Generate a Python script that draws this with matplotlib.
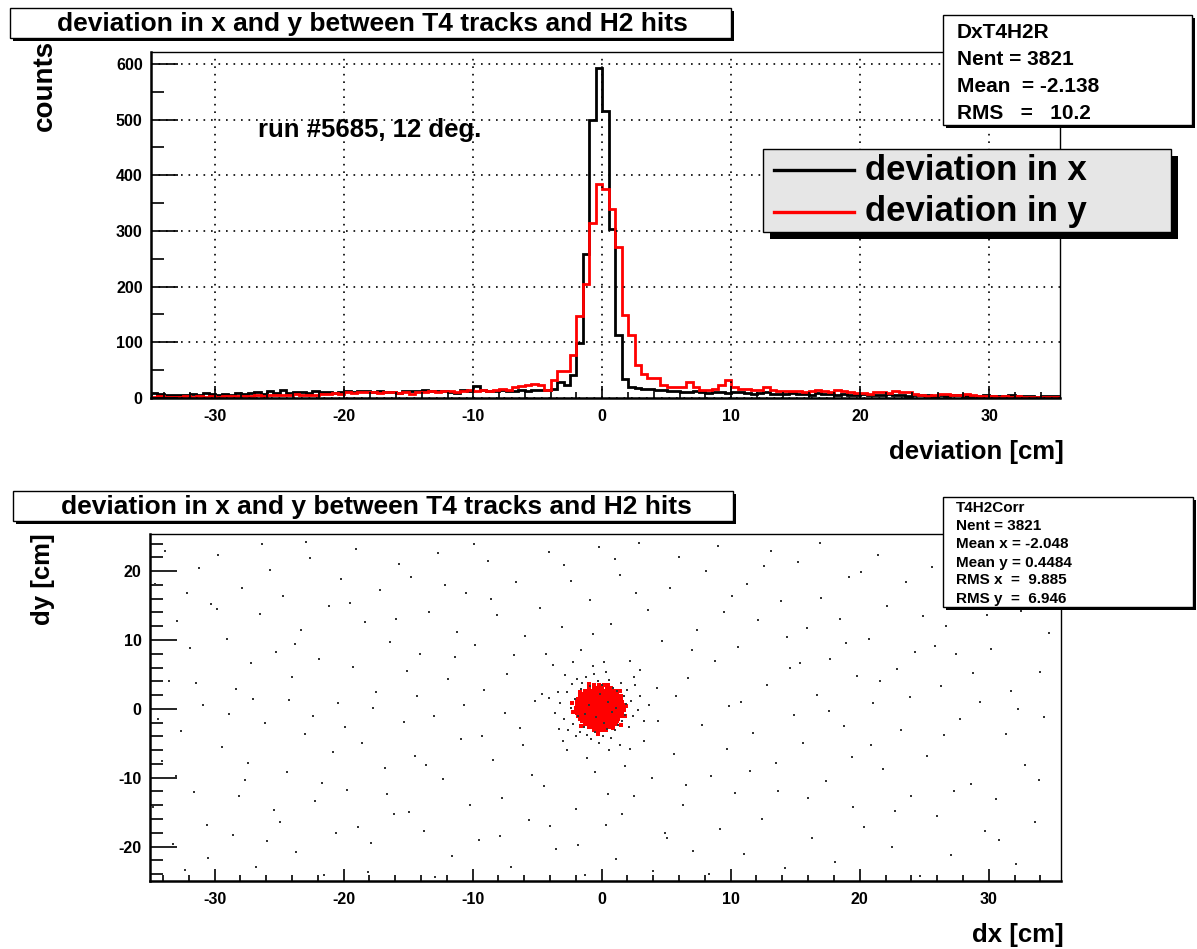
import numpy as np
import matplotlib
matplotlib.use("Agg")
import matplotlib.pyplot as plt
from matplotlib.patches import Rectangle
from matplotlib.lines import Line2D
from matplotlib.ticker import MultipleLocator

plt.rcParams['font.family'] = ['Liberation Sans', 'DejaVu Sans']
plt.rcParams['font.weight'] = 'bold'
plt.rcParams['axes.unicode_minus'] = False

W, H = 1197, 949

# histogram: 0.5 cm bins from -35 to 35.5
bin_lo, bin_hi = -35.0, 35.5
counts_x = [
    9, 7, 6, 6, 5, 6, 7, 6, 9, 7,
    6, 8, 5, 9, 8, 9, 10, 8, 12, 9,
    14, 9, 11, 10, 9, 12, 11, 10, 9, 10,
    12, 10, 13, 12, 11, 13, 11, 10, 9, 12,
    13, 12, 14, 13, 12, 13, 11, 9, 14, 13,
    22, 14, 12, 13, 15, 13, 12, 14, 13, 15,
    14, 14, 16, 29, 24, 41, 99, 258, 499, 592,
    515, 303, 113, 35, 20, 18, 16, 17, 14, 15,
    12, 13, 11, 10, 12, 10, 9, 11, 10, 9,
    11, 10, 9, 8, 9, 10, 8, 7, 8, 9,
    7, 8, 6, 9, 8, 7, 6, 7, 6, 5,
    7, 6, 5, 6, 7, 6, 5, 4, 5, 6,
    5, 4, 5, 4, 6, 5, 4, 3, 4, 5,
    4, 3, 4, 5, 3, 4, 3, 2, 3, 3,
    3,
]
counts_y = [
    2, 3, 2, 1, 2, 3, 2, 3, 2, 3,
    2, 3, 4, 3, 4, 4, 5, 4, 5, 6,
    5, 6, 7, 6, 5, 6, 8, 7, 9, 8,
    10, 9, 10, 11, 10, 9, 10, 11, 9, 10,
    7, 10, 11, 12, 11, 13, 12, 11, 13, 14,
    12, 14, 13, 15, 16, 14, 19, 22, 24, 25,
    24, 14, 32, 49, 49, 77, 147, 204, 314, 384,
    375, 339, 272, 149, 113, 60, 44, 36, 36, 23,
    20, 20, 20, 29, 20, 14, 14, 17, 23, 32,
    20, 17, 17, 15, 14, 20, 14, 13, 12, 13,
    12, 11, 12, 14, 12, 11, 15, 13, 10, 9,
    9, 8, 10, 11, 9, 12, 10, 11, 8, 6,
    4, 5, 8, 7, 6, 6, 7, 5, 4, 3,
    3, 2, 3, 2, 3, 2, 1, 2, 2, 1,
    1,
]

# scatter: sparse background hits (dx, dy)
bg_points = [
    (-34.6, 18.2), (-34.1, -7.5), (-33.8, 23.0), (-33.5, 4.1), (-33.2, -19.6), (-32.9, 12.7),
    (-32.6, -3.2), (-32.3, -23.4), (-31.9, 8.9), (-31.6, -12.1), (-31.2, 20.5), (-30.9, 0.6),
    (-30.6, -16.8), (-30.3, 15.3), (-34.4, -1.4), (-33.0, -9.8), (-31.4, 3.8), (-30.5, -21.7),
    (-32.1, 16.9), (-34.8, -14.2),
    (-29.7, 22.4), (-29.4, -5.6), (-29.0, 10.2), (-28.6, -18.3), (-28.3, 2.9), (-27.9, 17.6),
    (-27.6, -10.4), (-27.2, 6.7), (-26.8, -22.9), (-26.5, 13.8), (-26.1, -2.1), (-25.7, 20.1),
    (-25.4, -14.7), (-25.2, 8.3), (-28.9, -0.8), (-27.4, -7.9), (-26.3, 24.0), (-29.8, 14.5),
    (-25.9, -19.2), (-28.1, -12.6), (-27.0, 1.5),
    (-24.7, 16.4), (-24.4, -9.1), (-24.0, 4.6), (-23.7, -20.8), (-23.3, 11.5), (-23.0, -3.7),
    (-22.6, 21.9), (-22.2, -13.4), (-21.9, 7.2), (-21.5, -24.1), (-21.1, 14.9), (-20.8, -6.3),
    (-20.4, 0.9), (-20.2, 18.8), (-24.9, -16.5), (-22.9, 24.3), (-21.7, -10.7), (-23.8, 9.4),
    (-20.6, -18.0), (-24.2, 1.3), (-22.4, -1.0),
    (-19.7, -11.8), (-19.3, 6.1), (-19.0, 23.2), (-18.6, -4.9), (-18.3, 12.6), (-17.9, -19.5),
    (-17.5, 2.4), (-17.2, 17.3), (-16.8, -8.6), (-16.4, 9.7), (-16.1, -15.2), (-15.7, 21.0),
    (-15.3, -1.9), (-15.1, 5.5), (-19.5, 15.4), (-18.1, -23.7), (-16.6, -12.3), (-17.7, 0.2),
    (-15.9, 13.1), (-19.9, -2.6), (-18.9, -17.1),
    (-14.8, 19.1), (-14.5, -6.8), (-14.1, 8.0), (-13.8, -17.7), (-13.4, 14.0), (-13.0, -1.1),
    (-12.7, 22.6), (-12.3, -10.2), (-11.9, 4.3), (-11.6, -21.4), (-11.2, 11.1), (-10.9, -4.4),
    (-10.5, 16.8), (-10.2, -13.9), (-14.3, 1.8), (-12.9, -24.4), (-11.4, 7.6), (-13.6, -8.2),
    (-10.7, 0.5), (-12.1, 18.0), (-14.9, -15.0),
    (-9.8, 9.3), (-9.5, -19.0), (-9.1, 2.7), (-8.8, 21.5), (-8.4, -7.4), (-8.1, 13.6),
    (-7.7, -12.9), (-7.3, 5.0), (-7.0, -23.0), (-6.6, 18.4), (-6.3, -2.8), (-5.9, 10.6),
    (-5.6, -16.1), (-5.2, 1.2), (-9.3, -3.9), (-8.6, 16.0), (-7.5, -0.6), (-6.8, 7.8),
    (-5.4, -9.6), (-9.9, 24.0), (-6.1, -5.3), (-7.9, -18.4),
    (-4.8, 14.7), (-4.5, -11.2), (-4.1, 22.8), (-3.8, 6.4), (-3.5, -20.3), (-3.1, 11.9),
    (-2.7, -6.0), (-2.4, 18.6), (-2.0, -14.6), (-1.6, 8.5), (-1.3, -24.2), (-0.9, 15.8),
    (-0.5, -9.1), (-0.2, 23.5), (-4.6, 2.2), (-3.3, -2.9), (-4.0, -17.0), (-1.8, -19.7),
    (-2.9, 20.9), (-0.7, 10.9), (-4.3, 7.9), (-1.1, -7.2),
    (0.3, -16.9), (0.7, 12.3), (1.1, -21.8), (1.4, 19.4), (1.8, -8.3), (2.2, 7.0),
    (2.5, -12.7), (2.9, 24.1), (3.3, -4.6), (3.6, 14.4), (4.0, -23.5), (4.3, 3.0),
    (4.7, 9.8), (4.9, -18.1), (1.0, 21.7), (2.7, 16.8), (3.9, -10.0), (0.5, -12.4),
    (4.4, -1.7), (3.0, 5.6), (1.6, -15.2), (0.2, 6.8),
    (5.3, 17.5), (5.6, -6.6), (6.0, 22.0), (6.3, -14.0), (6.7, 4.5), (7.1, -20.6),
    (7.4, 11.4), (7.8, -2.3), (8.1, 20.0), (8.5, -9.8), (8.8, 6.9), (9.2, -17.4),
    (9.5, 14.1), (9.9, 0.4), (5.8, 1.9), (7.0, 8.6), (8.3, -24.0), (9.7, -5.8),
    (6.5, -11.1), (5.1, -18.7), (9.0, 23.6),
    (10.3, -12.2), (10.6, 9.0), (11.0, -21.1), (11.3, 18.1), (11.7, -3.5), (12.1, 12.9),
    (12.4, -16.0), (12.8, 3.5), (13.1, 23.0), (13.5, -7.8), (13.9, 15.6), (14.2, -23.1),
    (14.6, 6.0), (14.9, -0.9), (10.8, 1.0), (12.6, 20.7), (13.7, -11.9), (11.5, -9.0),
    (14.4, 10.5), (10.1, 16.4),
    (15.2, 21.3), (15.6, -5.0), (15.9, 11.8), (16.3, -18.8), (16.7, 2.0), (17.0, 16.1),
    (17.4, -10.5), (17.7, 7.3), (18.1, -22.3), (18.5, 13.0), (18.8, -2.5), (19.2, 19.2),
    (19.5, -14.3), (19.8, 4.8), (16.0, -12.9), (17.6, -0.3), (18.9, 9.5), (15.4, 6.6),
    (19.4, -7.0), (16.9, 24.1),
    (20.3, -17.2), (20.7, 10.1), (21.0, 0.8), (21.4, 22.4), (21.8, -8.7), (22.1, 15.0),
    (22.5, -20.0), (22.9, 5.8), (23.2, -3.1), (23.6, 18.5), (24.0, -12.6), (24.3, 8.2),
    (24.7, -24.3), (24.9, 13.5), (20.9, -5.2), (22.7, -14.8), (23.9, 1.7), (21.6, 4.0),
    (20.1, 19.9),
    (25.2, -6.9), (25.6, 20.6), (26.0, -15.5), (26.3, 3.3), (26.7, 12.0), (27.1, -21.2),
    (27.5, 7.9), (27.8, -1.5), (28.2, 17.2), (28.6, -10.9), (29.0, 23.8), (29.3, 1.0),
    (29.7, -17.8), (25.8, 9.2), (27.3, -12.0), (28.8, 5.2), (26.5, -3.8), (29.9, 13.6),
    (30.2, 8.7), (30.6, -13.1), (31.0, 19.3), (31.3, -3.6), (31.7, 2.6), (32.1, -22.6),
    (32.5, 14.2), (32.8, -8.1), (33.2, 22.1), (33.6, -16.4), (34.0, 5.4), (34.3, -1.2),
    (34.7, 11.0), (30.8, -19.0), (32.3, 0.0), (33.9, -10.3), (31.5, 16.5),
]

# black hits around the central peak
core_black = [
    (-3.2, 0.8), (-2.9, -1.5), (-2.7, 2.4), (-2.6, -3.1), (-2.4, 0.1), (-2.3, 3.6),
    (-2.2, -2.2), (-2.1, 1.5), (-2.0, -4.0), (-1.9, 4.3), (-1.7, -3.4), (-1.6, 2.9),
    (-1.5, 3.8), (-1.4, -2.7), (-1.2, 4.6), (-1.1, -3.8), (-0.9, 3.3), (-0.8, -4.4),
    (-0.6, 5.1), (-0.5, -3.3), (-0.3, 4.0), (-0.2, -5.0), (0.0, 3.5), (0.1, -3.9),
    (0.3, 5.4), (0.4, -2.9), (0.6, 4.2), (0.7, -4.2), (0.9, 3.1), (1.0, -3.0),
    (1.2, 2.6), (1.3, -2.4), (1.5, 3.7), (1.6, -1.8), (1.7, 1.9), (1.8, -0.9),
    (1.9, 0.7), (2.0, 2.8), (2.1, -2.6), (2.3, 1.2), (2.4, -1.1), (2.6, 3.4),
    (2.8, -0.2), (3.0, 1.9), (-3.6, -0.6), (-3.4, 2.5), (3.3, -1.7), (-1.0, 0.5),
    (-0.4, -1.2), (0.5, 1.0), (-1.3, -0.8), (0.8, -0.5), (-0.1, 2.1), (0.2, -2.0),
    (-1.8, -1.0), (1.1, 0.2), (-2.8, 4.9), (2.5, 4.7), (-3.0, -4.6), (1.4, -5.3),
    (-0.7, 6.2), (0.6, -6.0), (-4.1, 1.6), (3.7, 0.5), (-2.2, 6.8), (2.2, -5.9),
]

# red hits in the central peak, row by row (dy, list of dx)
red_rows = [
    (3.4, [-0.6, -0.2, 0.2]),
    (3.0, [-1.0, -0.6, -0.3, 0.0, 0.4, 0.7]),
    (2.6, [-1.3, -1.0, -0.7, -0.4, -0.1, 0.2, 0.5, 0.8, 1.1]),
    (2.2, [-1.5, -1.2, -0.9, -0.6, -0.3, 0.0, 0.3, 0.6, 0.9, 1.2]),
    (1.8, [-1.7, -1.4, -1.1, -0.8, -0.5, -0.2, 0.1, 0.4, 0.7, 1.0, 1.3, 1.5]),
    (1.4, [-1.8, -1.5, -1.2, -0.9, -0.6, -0.3, 0.0, 0.3, 0.6, 0.9, 1.2, 1.5]),
    (1.0, [-1.9, -1.6, -1.3, -1.0, -0.7, -0.4, -0.1, 0.2, 0.5, 0.8, 1.1, 1.4, 1.6]),
    (0.6, [-1.9, -1.6, -1.3, -1.0, -0.7, -0.4, -0.1, 0.2, 0.5, 0.8, 1.1, 1.4, 1.7]),
    (0.2, [-2.0, -1.7, -1.4, -1.1, -0.8, -0.5, -0.2, 0.1, 0.4, 0.7, 1.0, 1.3, 1.6]),
    (-0.2, [-1.9, -1.6, -1.3, -1.0, -0.7, -0.4, -0.1, 0.2, 0.5, 0.8, 1.1, 1.4, 1.7]),
    (-0.6, [-1.9, -1.6, -1.3, -1.0, -0.7, -0.4, -0.1, 0.2, 0.5, 0.8, 1.1, 1.4, 1.6]),
    (-1.0, [-1.8, -1.5, -1.2, -0.9, -0.6, -0.3, 0.0, 0.3, 0.6, 0.9, 1.2, 1.5]),
    (-1.4, [-1.7, -1.4, -1.1, -0.8, -0.5, -0.2, 0.1, 0.4, 0.7, 1.0, 1.3]),
    (-1.8, [-1.5, -1.2, -0.9, -0.6, -0.3, 0.0, 0.3, 0.6, 0.9, 1.2]),
    (-2.2, [-1.3, -1.0, -0.7, -0.4, -0.1, 0.2, 0.5, 0.8, 1.1]),
    (-2.6, [-1.0, -0.7, -0.4, -0.1, 0.2, 0.5, 0.8]),
    (-3.0, [-0.6, -0.3, 0.0, 0.3]),
]
red_fringe = [
    (-2.3, 0.9), (-2.2, -0.5), (1.9, 0.4), (1.8, -1.1), (-1.0, 3.6), (0.5, 3.4),
    (-0.3, -3.6), (0.9, -2.8), (-1.7, 2.5), (1.4, 2.6), (-1.6, -2.5), (1.5, -2.3),
]

stats_top = ["DxT4H2R", "Nent = 3821", "Mean  = -2.138", "RMS   =   10.2"]
stats_bot = ["T4H2Corr", "Nent = 3821", "Mean x = -2.048", "Mean y = 0.4484",
             "RMS x  =  9.885", "RMS y  =  6.946"]
title_txt = "deviation in x and y between T4 tracks and H2 hits"


def rect(x0, y0, x1, y1):
    # pixel box (top-left origin) -> figure fraction
    return [x0 / W, 1 - y1 / H, (x1 - x0) / W, (y1 - y0) / H]


def fx(x):
    return x / W


def fy(y):
    return 1 - y / H


def shadow_box(fig, x0, y0, x1, y1, off, face='white'):
    fig.patches.append(Rectangle((fx(x0 + off), fy(y1 + off)), (x1 - x0) / W, (y1 - y0) / H,
                                 transform=fig.transFigure, facecolor='black',
                                 edgecolor='none', zorder=5))
    fig.patches.append(Rectangle((fx(x0), fy(y1)), (x1 - x0) / W, (y1 - y0) / H,
                                 transform=fig.transFigure, facecolor=face,
                                 edgecolor='black', lw=1.0, zorder=6))


def style_axes(ax, xmin_len, xmaj_len):
    for side in ['top', 'right']:
        ax.spines[side].set_linewidth(1.0)
    for side in ['left', 'bottom']:
        ax.spines[side].set_linewidth(1.8)
    ax.xaxis.set_major_locator(MultipleLocator(10))
    ax.xaxis.set_minor_locator(MultipleLocator(2))
    ax.tick_params(axis='both', which='both', direction='in', top=False, right=False,
                   labelsize=11.5, width=1.2)
    ax.tick_params(axis='x', which='major', length=xmaj_len, pad=8)
    ax.tick_params(axis='x', which='minor', length=xmin_len)
    ax.tick_params(axis='y', which='major', length=19.5, pad=6)
    ax.tick_params(axis='y', which='minor', length=9.5)
    for lab in ax.get_xticklabels() + ax.get_yticklabels():
        lab.set_fontweight('bold')


fig = plt.figure(figsize=(W / 100, H / 100), dpi=100)

# ---------- top panel: 1D deviations ----------
ax1 = fig.add_axes(rect(151, 52, 1060, 398))
edges = np.linspace(bin_lo, bin_hi, len(counts_x) + 1)
ax1.stairs(counts_x, edges, color='black', lw=2.0, baseline=0)
ax1.stairs(counts_y, edges, color='#ff0000', lw=2.0, baseline=0)
ax1.set_xlim(bin_lo, bin_hi)
ax1.set_ylim(0, 621.5)
ax1.yaxis.set_major_locator(MultipleLocator(100))
ax1.yaxis.set_minor_locator(MultipleLocator(50))
ax1.grid(True, which='major', color='black', lw=1.2, linestyle=(0, (1, 3.5)))
style_axes(ax1, 4.5, 8.5)

fig.text(fx(258), fy(130), "run #5685, 12 deg.", fontsize=18.5, fontweight='bold',
         va='center', ha='left')
fig.text(fx(45), fy(40), "counts", rotation=90, fontsize=20, fontweight='bold',
         ha='center', va='top')
fig.text(fx(1064), fy(452), "deviation [cm]", fontsize=18.5, fontweight='bold',
         ha='right', va='center')

shadow_box(fig, 10, 8, 731, 38, 3)
fig.text(fx(372), fy(24), title_txt, fontsize=19, fontweight='bold',
         ha='center', va='center', zorder=7)

shadow_box(fig, 943, 15, 1192, 125, 3)
for i, line in enumerate(stats_top):
    fig.text(fx(957), fy(32 + 27.3 * i), line, fontsize=15, fontweight='bold',
             ha='left', va='center', zorder=7)

shadow_box(fig, 763, 149, 1171, 232, 7, face='#e6e6e6')
for yy, col, lab in [(170, 'black', 'deviation in x'), (212, '#ff0000', 'deviation in y')]:
    fig.lines.append(Line2D([fx(774), fx(854)], [fy(yy), fy(yy)], color=col, lw=2.4,
                            transform=fig.transFigure, zorder=7))
    fig.text(fx(865), fy(yy), lab, fontsize=25, fontweight='bold', ha='left',
             va='center', zorder=7)

# ---------- bottom panel: dy vs dx ----------
ax2 = fig.add_axes(rect(150, 534, 1061, 881))
red_x = [x for yy, xs in red_rows for x in xs] + [p[0] for p in red_fringe]
red_y = [yy for yy, xs in red_rows for x in xs] + [p[1] for p in red_fringe]
ax2.scatter(red_x, red_y, s=5.5, marker='s', color='#ff0000', linewidths=0, zorder=3)
bx = [p[0] for p in bg_points] + [p[0] for p in core_black]
by = [p[1] for p in bg_points] + [p[1] for p in core_black]
ax2.scatter(bx, by, s=1.6, marker='s', color='#333333', linewidths=0, zorder=4)
ax2.set_xlim(-35, 35.6)
ax2.set_ylim(-25, 25.4)
ax2.yaxis.set_major_locator(MultipleLocator(10))
ax2.yaxis.set_minor_locator(MultipleLocator(2))
style_axes(ax2, 4.5, 8.5)

fig.text(fx(43), fy(533), "dy [cm]", rotation=90, fontsize=18.5, fontweight='bold',
         ha='center', va='top')
fig.text(fx(1064), fy(935), "dx [cm]", fontsize=18.5, fontweight='bold',
         ha='right', va='center')

shadow_box(fig, 13, 491, 733, 521, 3)
fig.text(fx(376), fy(507), title_txt, fontsize=19, fontweight='bold',
         ha='center', va='center', zorder=7)

shadow_box(fig, 943, 497, 1193, 607, 3)
for i, line in enumerate(stats_bot):
    fig.text(fx(956), fy(508.5 + 18.0 * i), line, fontsize=11, fontweight='bold',
             ha='left', va='center', zorder=7)

fig.savefig("out.png", dpi=100)
